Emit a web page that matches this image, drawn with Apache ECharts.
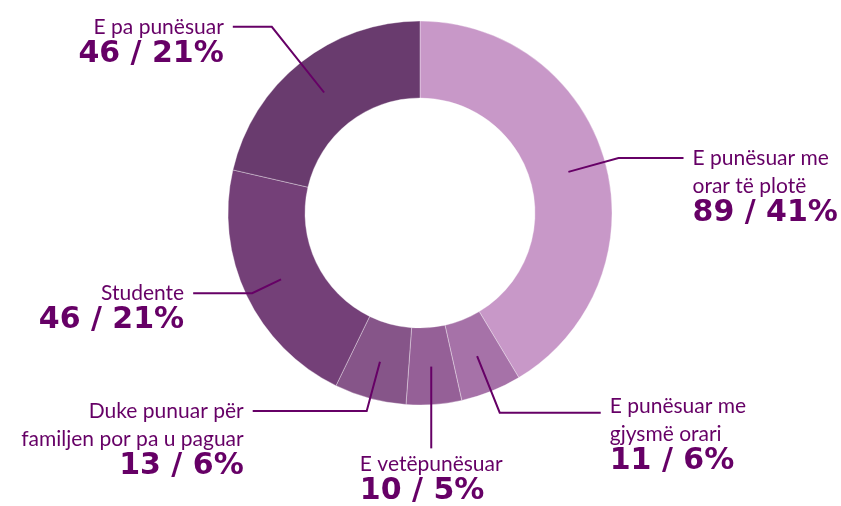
<!DOCTYPE html>
<html>
<head>
<meta charset="utf-8">
<script src="https://cdn.jsdelivr.net/npm/echarts@6/dist/echarts.min.js"></script>
<style>
  html, body { margin: 0; padding: 0; background: #fff; }
  #chart { width: 841px; height: 506px; }
</style>
</head>
<body>
<div id="chart"></div>
<script>
// clockwise from 12 o'clock
var categories = ['E punësuar me\norar të plotë', 'E punësuar me\ngjysmë orari', 'E vetëpunësuar',
                  'Duke punuar për\nfamiljen por pa u paguar', 'Studente', 'E pa punësuar'];
var counts = [89, 11, 10, 13, 46, 46];
var shares = [41, 6, 5, 6, 21, 21];   // percentages as printed

var colors = ['#c898c8', '#a672a8', '#956097', '#865589', '#744078', '#693b6e'];
var leaderLen = [52, 61, 82, 51, 32, 84];
var leaderLen2 = [65, 101, 0, 114, 59, 39];
var labelDy = [0, -6, 0, 0, 0, 0];

var TEXT = '#660066';
var center = [420, 213];

function ringData() {
    return counts.map(function (v, i) {
        return { name: categories[i], value: v, itemStyle: { color: colors[i] } };
    });
}

function labelData() {
    return counts.map(function (v, i) {
        return {
            name: categories[i], value: v,
            labelLine: { length: leaderLen[i], length2: leaderLen2[i] }
        };
    });
}

var chart = echarts.init(document.getElementById('chart'), null, { renderer: 'canvas' });

var nameFont = { fontFamily: 'Lato', fontWeight: 400, fontSize: 21, lineHeight: 28, color: TEXT };
var valueFont = { fontFamily: 'DejaVu Sans', fontWeight: 'bold', fontSize: 30, lineHeight: 26, color: TEXT };

chart.setOption({
    animation: false,
    backgroundColor: '#fff',
    series: [
        {
            type: 'pie',
            silent: true,
            z: 1,
            center: center,
            radius: [115, 192],
            startAngle: 90,
            itemStyle: { borderColor: 'rgba(255,255,255,0.35)', borderWidth: 1 },
            label: { show: false },
            labelLine: { show: false },
            emphasis: { disabled: true },
            data: ringData()
        },
        {
            // invisible helper ring: anchors leader lines in the middle of the band
            type: 'pie',
            silent: true,
            z: 5,
            center: center,
            radius: [0, 154],
            startAngle: 90,
            avoidLabelOverlap: false,
            itemStyle: { color: 'rgba(0,0,0,0)' },
            emphasis: { disabled: true },
            label: {
                show: true,
                position: 'outer',
                color: TEXT,
                formatter: function (p) {
                    var i = p.dataIndex;
                    var s = (i >= 3) ? 'R' : 'L';
                    return '{n' + s + '|' + categories[i] + '}\n{v' + s + '|' + counts[i] + ' / ' + shares[i] + '%}';
                },
                rich: {
                    nL: Object.assign({ align: 'left' }, nameFont),
                    nR: Object.assign({ align: 'right' }, nameFont),
                    vL: Object.assign({ align: 'left' }, valueFont),
                    vR: Object.assign({ align: 'right' }, valueFont)
                }
            },
            labelLine: {
                show: true,
                smooth: false,
                lineStyle: { color: TEXT, width: 2 }
            },
            labelLayout: function (p) {
                var pts = p.labelLinePoints;
                if (!pts) return {};
                pts = pts.map(function (q) { return [q[0], q[1]]; });
                var i = p.dataIndex;
                var end = pts[pts.length - 1];
                if (leaderLen2[i] === 0) {
                    pts[1][0] = pts[0][0];
                    end[0] = pts[0][0];
                    return { x: end[0], y: end[1] + 2, align: 'center', verticalAlign: 'top', labelLinePoints: pts };
                }
                var left = end[0] < pts[0][0];
                return {
                    x: left ? end[0] - 9 : end[0] + 9,
                    y: end[1] - 14 + labelDy[i],
                    align: left ? 'right' : 'left',
                    verticalAlign: 'top',
                    labelLinePoints: pts
                };
            },
            data: labelData()
        }
    ]
});
</script>
</body>
</html>
